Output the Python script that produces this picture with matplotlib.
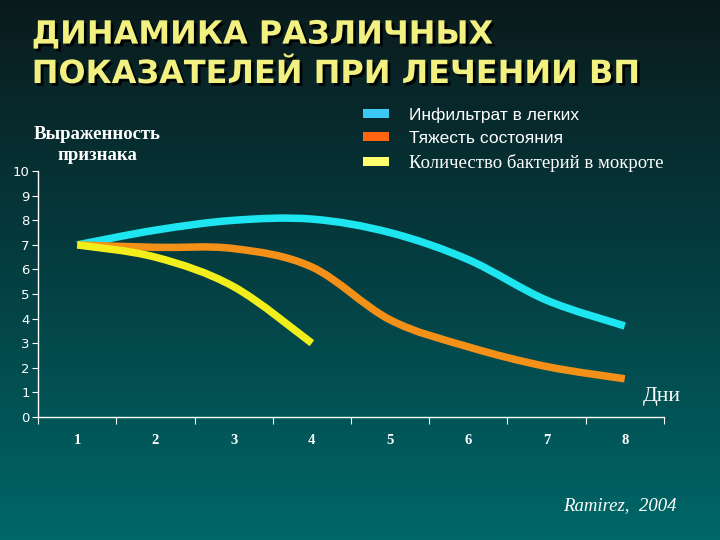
import numpy as np
import matplotlib
matplotlib.use("Agg")
import matplotlib.pyplot as plt
from matplotlib.path import Path
from matplotlib.patches import PathPatch, Patch
import matplotlib.patheffects as pe

# data
days = [1, 2, 3, 4, 5, 6, 7, 8]
infiltrat = [7.0, 7.6, 8.0, 8.05, 7.5, 6.4, 4.75, 3.7]
tyazhest = [7.0, 6.9, 6.85, 6.1, 3.95, 2.85, 2.05, 1.55]
bakterii = [7.0, 6.5, 5.3, 3.0]
bakterii_days = days[:4]

series_names = ["Инфильтрат в легких", "Тяжесть состояния", "Количество бактерий в мокроте"]
line_colors = ["#1ee6f0", "#f39018", "#f2ee1c"]
legend_colors = ["#3cc8f5", "#ff6410", "#ffff6e"]


def smooth_path(xs, ys):
    # excel-like smoothed line: cubic bezier segments through the points
    xs = np.asarray(xs, float)
    ys = np.asarray(ys, float)
    verts = [(xs[0], ys[0])]
    codes = [Path.MOVETO]
    n = len(xs)
    for i in range(n - 1):
        x0, y0 = (xs[i - 1], ys[i - 1]) if i > 0 else (xs[i], ys[i])
        x1, y1 = xs[i], ys[i]
        x2, y2 = xs[i + 1], ys[i + 1]
        x3, y3 = (xs[i + 2], ys[i + 2]) if i + 2 < n else (x2, y2)
        c1 = (x1 + (x2 - x0) / 6, y1 + (y2 - y0) / 6)
        c2 = (x2 - (x3 - x1) / 6, y2 - (y3 - y1) / 6)
        verts += [c1, c2, (x2, y2)]
        codes += [Path.CURVE4] * 3
    return Path(verts, codes)


fig = plt.figure(figsize=(7.2, 5.4), dpi=100)

# background gradient
bg = fig.add_axes([0, 0, 1, 1], zorder=-10)
grad = np.linspace(0, 1, 256).reshape(-1, 1)
cmap = matplotlib.colors.LinearSegmentedColormap.from_list(
    "bg", ["#0a1a1c", "#043e41", "#006768"])
bg.imshow(grad, aspect="auto", cmap=cmap, extent=[0, 1, 0, 1])
bg.axis("off")

ax = fig.add_axes([0.053, 0.228, 0.869, 0.455])
ax.set_facecolor("none")

for xs, ys, c in [(days, infiltrat, line_colors[0]),
                  (days, tyazhest, line_colors[1]),
                  (bakterii_days, bakterii, line_colors[2])]:
    ax.add_patch(PathPatch(smooth_path(xs, ys), facecolor="none", edgecolor=c,
                           lw=5.4, capstyle="butt", joinstyle="round"))

ax.set_xlim(0.5, 8.5)
ax.set_ylim(0, 10)
ax.set_yticks(range(0, 11))
ax.set_xticks(np.arange(0.5, 9, 1))
ax.set_xticklabels([])
ax.set_xticks(days, minor=True)
ax.set_xticklabels([str(d) for d in days], minor=True, family="Liberation Serif",
                   fontweight="bold", fontsize=10.5, color="white")
ax.tick_params(axis="x", which="minor", length=0, pad=12)
ax.tick_params(axis="x", which="major", length=5, color="white")
ax.tick_params(axis="y", length=4, color="white", labelcolor="white", labelsize=9.5, pad=2)
for s in ["top", "right"]:
    ax.spines[s].set_visible(False)
for s in ["left", "bottom"]:
    ax.spines[s].set_color("white")
    ax.spines[s].set_linewidth(1)

# title, two lines
shadow = [pe.withSimplePatchShadow(offset=(2, -2), shadow_rgbFace="black", alpha=0.9)]
for txt, yy in [("ДИНАМИКА РАЗЛИЧНЫХ", 0.935), ("ПОКАЗАТЕЛЕЙ ПРИ ЛЕЧЕНИИ ВП", 0.862)]:
    fig.text(0.044, yy, txt, fontsize=23, fontweight="bold", color="#f2f080",
             family="DejaVu Sans", va="center", path_effects=shadow)

fig.text(0.135, 0.732, "Выраженность\nпризнака", ha="center", va="center",
         family="Liberation Serif", fontweight="bold", fontsize=13.5, color="white",
         linespacing=1.3)

# legend
handles = [Patch(facecolor=c, edgecolor="none") for c in legend_colors]
leg = fig.legend(handles, series_names, loc="upper left", bbox_to_anchor=(0.483, 0.83),
                 frameon=False, fontsize=12.5, handlelength=1.5, handleheight=0.45,
                 handletextpad=1.1, labelspacing=0.45, labelcolor="white")
for i, t in enumerate(leg.get_texts()):
    t.set_family("Liberation Serif" if i == 2 else "Liberation Sans")
    if i == 2:
        t.set_fontsize(13.5)

fig.text(0.946, 0.265, "Дни", family="Liberation Serif", fontsize=15.5, color="white",
         ha="right", va="center")
fig.text(0.94, 0.064, "Ramirez,  2004", family="Liberation Serif", style="italic",
         fontsize=13.5, color="white", ha="right", va="center")

fig.savefig("out.png", dpi=100)
